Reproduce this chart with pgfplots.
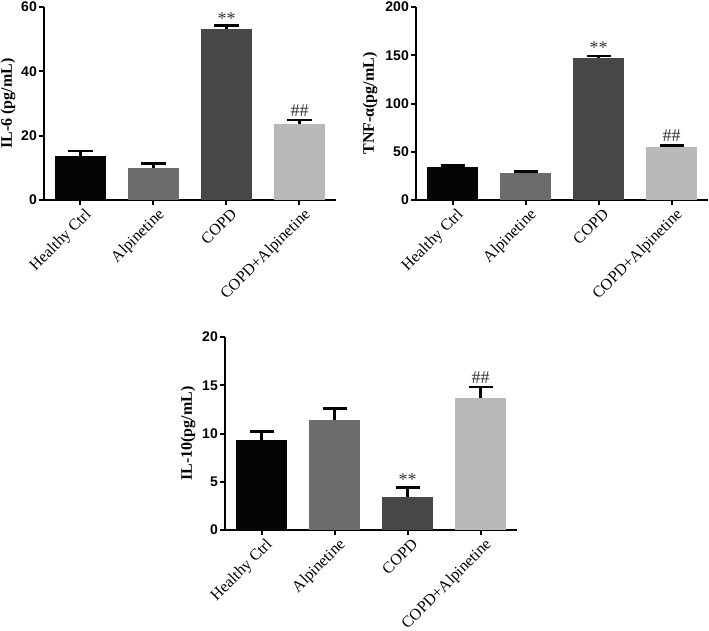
\documentclass[border=0pt]{standalone}
\usepackage{pgfplots}
\pgfplotsset{compat=1.18}
\usepackage{fontspec}
\setmainfont{Liberation Serif}
\newfontfamily\arial{Liberation Sans}
\definecolor{c1}{HTML}{050505}
\definecolor{c2}{HTML}{6C6C6C}
\definecolor{c3}{HTML}{474747}
\definecolor{c4}{HTML}{B9B9B9}
\definecolor{anncol}{HTML}{333333}
\newcommand\numf{\arial\bfseries\fontsize{14bp}{16bp}\selectfont}
\newcommand\labf{\fontsize{16bp}{18bp}\selectfont}
\newcommand\ylabf{\bfseries\fontsize{16bp}{18bp}\selectfont}
\newcommand\annf{\fontsize{18bp}{20bp}\selectfont}
\tikzset{annot/.style={font=\annf, anchor=base, inner sep=0pt, text=anncol}}
\pgfplotsset{
  panel/.style={
    scale only axis, width=292bp, height=193bp,
    axis lines*=left,
    axis line style={line width=2bp, black},
    xmin=-0.5, xmax=3.5, xtick={0,1,2,3},
    xticklabels={Healthy Ctrl, Alpinetine, COPD, COPD+Alpinetine},
    ymin=0,
    tick align=outside, major tick length=5bp,
    tick style={line width=2bp, black},
    xticklabel style={font=\labf, rotate=45, anchor=north east, inner sep=1bp, yshift=-3bp, xshift=2bp},
    yticklabel style={font=\numf, inner sep=2bp},
    /pgf/number format/assume math mode=true,
    clip=false,
  },
  ylab/.style={every axis y label/.style={at={([xshift=#1]axis description cs:0,0.5)}, rotate=90, anchor=center, font=\ylabf}},
  bar/.style={ybar, bar width=51bp, bar shift=0pt, fill=#1, draw=none,
    error bars/.cd, y dir=plus, y explicit,
    error bar style={line width=2.5bp, black},
    error mark options={rotate=90, mark size=12bp, line width=2.5bp, black}},
}
\begin{document}
\begin{tikzpicture}
\path[use as bounding box] (0,0) rectangle (709bp,-631bp);
% IL-6
\begin{axis}[panel, at={(44bp,-200bp)}, anchor=south west,
  ymax=60, ytick={0,20,40,60}, ylabel={IL-6 (pg/mL)}, ylab=-36bp]
\addplot[bar=c1] coordinates {(0,13.7) +- (0,1.6)};
\addplot[bar=c2] coordinates {(1,10.0) +- (0,1.4)};
\addplot[bar=c3] coordinates {(2,53.1) +- (0,1.2)};
\addplot[bar=c4] coordinates {(3,23.6) +- (0,1.2)};
\node[annot, yshift=1bp] at (axis cs:2,54.3) {**};
\node[annot, yshift=4bp] at (axis cs:3,24.8) {\#\#};
\end{axis}
% TNF-alpha
\begin{axis}[panel, at={(416bp,-200bp)}, anchor=south west,
  ymax=200, ytick={0,50,100,150,200}, ylabel={TNF-α(pg/mL)}, ylab=-46bp]
\addplot[bar=c1] coordinates {(0,34.2) +- (0,1.5)};
\addplot[bar=c2] coordinates {(1,28.0) +- (0,1.7)};
\addplot[bar=c3] coordinates {(2,147.2) +- (0,2.0)};
\addplot[bar=c4] coordinates {(3,55.2) +- (0,1.2)};
\node[annot, yshift=3bp] at (axis cs:2,149.2) {**};
\node[annot, yshift=4bp] at (axis cs:3,56.4) {\#\#};
\end{axis}
% IL-10
\begin{axis}[panel, at={(225bp,-530bp)}, anchor=south west,
  ymax=20, ytick={0,5,10,15,20}, ylabel={IL-10(pg/mL)}, ylab=-37bp]
\addplot[bar=c1] coordinates {(0,9.3) +- (0,0.9)};
\addplot[bar=c2] coordinates {(1,11.4) +- (0,1.2)};
\addplot[bar=c3] coordinates {(2,3.45) +- (0,0.95)};
\addplot[bar=c4] coordinates {(3,13.7) +- (0,1.1)};
\node[annot, yshift=2bp] at (axis cs:2,4.4) {**};
\node[annot, yshift=4bp] at (axis cs:3,14.8) {\#\#};
\end{axis}
\end{tikzpicture}
\end{document}
